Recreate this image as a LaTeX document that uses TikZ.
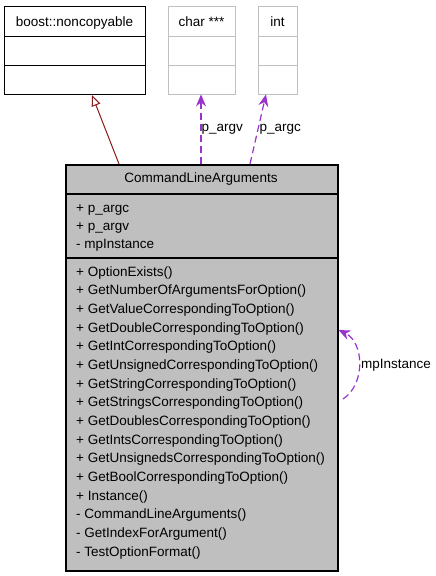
\documentclass[tikz,border=0pt]{standalone}
\usepackage{fontspec}
\setmainfont{Liberation Sans}
\usetikzlibrary{arrows.meta,calc}
\definecolor{classfill}{HTML}{BFBFBF}
\definecolor{emptyline}{HTML}{C0C0C0}
\definecolor{inhred}{HTML}{8B1A1A}
\definecolor{usepurple}{HTML}{9A32CD}
\begin{document}
\begin{tikzpicture}[x=1pt, y=-1pt,
    every node/.style={font=\fontsize{13.5}{16}\selectfont, inner sep=0pt},
    box/.style={rectangle, anchor=north west, draw},
    member/.style={anchor=base west},
    inherit/.style={draw=inhred, line width=1pt, -{Triangle[open, length=11pt, width=9pt]}},
    uses/.style={draw=usepurple, line width=1.2pt, dash pattern=on 7pt off 4pt, -{Stealth[length=12pt, width=10pt, inset=4pt]}}]
    \useasboundingbox (0,0) rectangle (436,576);
    \node[box, line width=1pt, minimum width=141pt, minimum height=88pt] (nc) at (4,6) {};
    \node[anchor=base] (nctitle) at (74.5,26) {boost::noncopyable};
    \draw (4,36) -- (145,36) (4,65) -- (145,65);
    \node[box, draw=emptyline, minimum width=67pt, minimum height=88pt] (ch) at (168,6) {};
    \node[anchor=base] (chtitle) at (201.5,26) {char ***};
    \draw[emptyline] (168,36) -- (235,36) (168,65) -- (235,65);
    \node[box, draw=emptyline, minimum width=39pt, minimum height=88pt] (it) at (258,6) {};
    \node[anchor=base] (ittitle) at (277.5,26) {int};
    \draw[emptyline] (258,36) -- (297,36) (258,65) -- (297,65);
    \node[box, fill=classfill, line width=1.5pt, minimum width=272pt, minimum height=406pt] (cla) at (65,164) {};
    \node[anchor=base] (clatitle) at (201,182) {CommandLineArguments};
    \draw[line width=1.5pt] (65,194) -- (337,194) (65,258) -- (337,258);
    \foreach \a [count=\i from 0] in {+ p\_argc, + p\_argv, - mpInstance}
        \node[member] (a\i) at (76,212+\i*18) {\a};
    \foreach \m [count=\i from 0] in {+ OptionExists(), + GetNumberOfArgumentsForOption(),
        + GetValueCorrespondingToOption(), + GetDoubleCorrespondingToOption(),
        + GetIntCorrespondingToOption(), + GetUnsignedCorrespondingToOption(),
        + GetStringCorrespondingToOption(), + GetStringsCorrespondingToOption(),
        + GetDoublesCorrespondingToOption(), + GetIntsCorrespondingToOption(),
        + GetUnsignedsCorrespondingToOption(), + GetBoolCorrespondingToOption(),
        + Instance(), - CommandLineArguments(), - GetIndexForArgument(),
        - TestOptionFormat()}
        \node[member] (m\i) at (76,276+\i*18.67) {\m};
    \coordinate (inhstart) at ($(cla.north west)+(54,0)$);
    \coordinate (inhend) at ($(nc.south west)+(88,0)$);
    \draw[inherit] (inhstart) -- (inhend);
    \coordinate (argvstart) at ($(cla.north west)+(136,0)$);
    \coordinate (argvend) at ($(ch.south west)+(33,0)$);
    \draw[uses] (argvstart) -- node[anchor=west] (argvlabel) {p\_argv} (argvend);
    \coordinate (argcstart) at ($(cla.north west)+(185,0)$);
    \coordinate (argcend) at ($(it.south west)+(8,0)$);
    \draw[uses] (argcstart) -- node[anchor=west, xshift=1pt] (argclabel) {p\_argc} (argcend);
    \coordinate (selfstart) at (343,399);
    \coordinate (selfend) at ($(cla.north east)+(0,166)$);
    \draw[uses] (selfstart) .. controls (366,384) and (364,342) .. (selfend);
    \node[anchor=west] (selflabel) at (361,365) {mpInstance};
\end{tikzpicture}
\end{document}
